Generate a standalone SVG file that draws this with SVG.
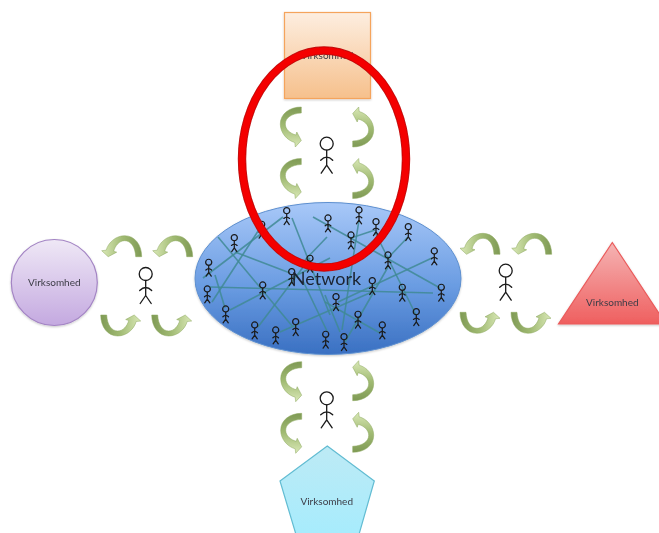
<svg xmlns="http://www.w3.org/2000/svg" xmlns:xlink="http://www.w3.org/1999/xlink" width="659" height="533" viewBox="0 0 659 533">
<style>
text{font-family:Lato,"Liberation Sans",sans-serif;font-size:10px;fill:#3c3c46;text-anchor:middle}
.fig{fill:none;stroke:#1a1a1a;stroke-linecap:round;stroke-linejoin:round}
.big{stroke-width:1.3}
.small{stroke-width:2.6}
.arr{fill:url(#gArrow);stroke:#8ba65c;stroke-width:.5}
#connectors line{stroke:#3f8a94;stroke-width:1.6;stroke-opacity:.85}
</style>
<defs>
<linearGradient id="gArrow" gradientUnits="userSpaceOnUse" x1="0" y1="0" x2="0" y2="38"><stop offset="0" stop-color="#7f9a55"/><stop offset=".5" stop-color="#a0ba72"/><stop offset="1" stop-color="#d4e4b0"/></linearGradient>
<linearGradient id="gOrange" x1="0" y1="0" x2="0" y2="1"><stop offset="0" stop-color="#fdeee0"/><stop offset="1" stop-color="#f6c08c"/></linearGradient>
<linearGradient id="gPurple" x1="0" y1="0" x2="0" y2="1"><stop offset="0" stop-color="#efe8f6"/><stop offset="1" stop-color="#c4a9e0"/></linearGradient>
<linearGradient id="gRed" x1="0" y1="0" x2="0" y2="1"><stop offset="0" stop-color="#f5b4b4"/><stop offset="1" stop-color="#ef5f5f"/></linearGradient>
<linearGradient id="gCyan" x1="0" y1="0" x2="0" y2="1"><stop offset="0" stop-color="#bdeaf5"/><stop offset="1" stop-color="#a6ecfd"/></linearGradient>
<linearGradient id="gBlue" x1="0" y1="0" x2="0" y2="1"><stop offset="0" stop-color="#a8c8f8"/><stop offset=".55" stop-color="#6a9ce2"/><stop offset="1" stop-color="#3a70c2"/></linearGradient>
<filter id="soft" x="-5%" y="-5%" width="110%" height="115%"><feDropShadow dx="0" dy="1" stdDeviation="1" flood-color="#000" flood-opacity=".22"/></filter>
<filter id="blur" filterUnits="userSpaceOnUse" x="0" y="0" width="659" height="533"><feGaussianBlur stdDeviation=".4"/></filter>
<path id="ca" class="arr" d="M0,0 L0,6 C-10,6.5 -16,11 -16,17 C-16,22.5 -11,26.5 -5.5,28 L-4.5,25 L0,33.5 L-6,40 L-6.5,35.5 C-14,33.5 -21,26 -21,17 C-21,7 -12,0 0,0Z"/>
<g id="p" class="fig"><circle cx="0" cy="0" r="6.5"/><path d="M0,6.5V21.5M-6,16.5Q-3,13.5 0,13.5Q3,13.5 6,16.5M0,21.5L-5.5,29.5M0,21.5L5.5,29.5"/></g>
</defs>
<rect width="659" height="533" fill="#fff"/>
<g filter="url(#blur)">
<g id="node-square"><rect x="284.5" y="12.5" width="86" height="86" fill="url(#gOrange)" stroke="#f5a45c" stroke-width="1.2" filter="url(#soft)"/><text x="327" y="59">Virksomhed</text></g>
<g id="node-circle"><circle cx="54.3" cy="282.5" r="43" fill="url(#gPurple)" stroke="#a384c4" stroke-width="1.2" filter="url(#soft)"/><text x="54.3" y="286">Virksomhed</text></g>
<g id="node-triangle"><polygon points="612.3,242.5 558.5,324 666,324" fill="url(#gRed)" stroke="#ea5a5a" stroke-width="1.2" filter="url(#soft)"/><text x="612.3" y="306">Virksomhed</text></g>
<g id="node-pentagon"><polygon points="327.3,446 374.3,481 358,538 297,538 280,481" fill="url(#gCyan)" stroke="#62bcd2" stroke-width="1.2"/><text x="326.7" y="504.5">Virksomhed</text></g>

<g id="node-network"><ellipse cx="328" cy="278.5" rx="133" ry="76" fill="url(#gBlue)" stroke="#5d8fcf" stroke-width="1" filter="url(#soft)"/></g>

<g id="connectors">
<line x1="203" y1="278" x2="283" y2="217"/>
<line x1="218" y1="237" x2="293" y2="327"/>
<line x1="235" y1="252" x2="290" y2="273"/>
<line x1="262" y1="225" x2="212" y2="302"/>
<line x1="210" y1="287" x2="433" y2="293"/>
<line x1="215" y1="275" x2="225" y2="308"/>
<line x1="230" y1="310" x2="330" y2="258"/>
<line x1="305" y1="260" x2="327" y2="237"/>
<line x1="258" y1="327" x2="310" y2="258"/>
<line x1="292" y1="218" x2="330" y2="315"/>
<line x1="303" y1="281" x2="327" y2="331"/>
<line x1="280" y1="332" x2="372" y2="292"/>
<line x1="338" y1="302" x2="432" y2="258"/>
<line x1="313" y1="217" x2="440" y2="288"/>
<line x1="375" y1="232" x2="416" y2="315"/>
<line x1="359" y1="220" x2="342" y2="330"/>
<line x1="388" y1="267" x2="345" y2="342"/>
<line x1="325" y1="302" x2="380" y2="333"/>
<line x1="351" y1="238" x2="375" y2="230"/>
<line x1="408" y1="237" x2="388" y2="258"/>
<line x1="325" y1="295" x2="340" y2="332"/>
</g>

<g id="network-people">
<use href="#p" class="small" transform="translate(286.7,210.7) scale(.47)"/>
<use href="#p" class="small" transform="translate(261.7,224.3) scale(.47)"/>
<use href="#p" class="small" transform="translate(234.3,237.7) scale(.47)"/>
<use href="#p" class="small" transform="translate(208.7,262.3) scale(.47)"/>
<use href="#p" class="small" transform="translate(207.3,289) scale(.47)"/>
<use href="#p" class="small" transform="translate(225.7,309) scale(.47)"/>
<use href="#p" class="small" transform="translate(254.7,325) scale(.47)"/>
<use href="#p" class="small" transform="translate(275.7,330) scale(.47)"/>
<use href="#p" class="small" transform="translate(295.7,321.7) scale(.47)"/>
<use href="#p" class="small" transform="translate(325.7,334.3) scale(.47)"/>
<use href="#p" class="small" transform="translate(262.7,285) scale(.47)"/>
<use href="#p" class="small" transform="translate(291.7,271.7) scale(.47)"/>
<use href="#p" class="small" transform="translate(310,258.3) scale(.47)"/>
<use href="#p" class="small" transform="translate(328,218) scale(.47)"/>
<use href="#p" class="small" transform="translate(359,210) scale(.47)"/>
<use href="#p" class="small" transform="translate(376,221.7) scale(.47)"/>
<use href="#p" class="small" transform="translate(351,235) scale(.47)"/>
<use href="#p" class="small" transform="translate(408.3,226.7) scale(.47)"/>
<use href="#p" class="small" transform="translate(434.3,251) scale(.47)"/>
<use href="#p" class="small" transform="translate(388,255) scale(.47)"/>
<use href="#p" class="small" transform="translate(372.3,280.7) scale(.47)"/>
<use href="#p" class="small" transform="translate(402.3,287.3) scale(.47)"/>
<use href="#p" class="small" transform="translate(441.3,287.3) scale(.47)"/>
<use href="#p" class="small" transform="translate(336,296.7) scale(.47)"/>
<use href="#p" class="small" transform="translate(416.3,311.7) scale(.47)"/>
<use href="#p" class="small" transform="translate(358,314.3) scale(.47)"/>
<use href="#p" class="small" transform="translate(382.3,325) scale(.47)"/>
<use href="#p" class="small" transform="translate(344,336.7) scale(.47)"/>
</g>
<text id="network-label" x="326.5" y="284.5" style="font-size:18px;fill:#1c2430">Network</text>

<g id="node-person-top">
<use href="#p" class="big" transform="translate(326.7,143.7)"/>
<use href="#ca" transform="translate(301.3,107)"/>
<use href="#ca" transform="translate(301.3,158.5)"/>
<use href="#ca" transform="translate(352.7,147) rotate(180)"/>
<use href="#ca" transform="translate(352.7,198.5) rotate(180)"/>
</g>
<g id="node-person-bottom">
<use href="#p" class="big" transform="translate(326.7,398.3)"/>
<use href="#ca" transform="translate(301.7,361.7)"/>
<use href="#ca" transform="translate(301.7,413.3)"/>
<use href="#ca" transform="translate(352.7,400.7) rotate(180)"/>
<use href="#ca" transform="translate(352.7,452.3) rotate(180)"/>
</g>
<g id="node-person-left">
<use href="#p" class="big" transform="translate(145.7,274)"/>
<use href="#ca" transform="translate(141.7,256.7) rotate(90)"/>
<use href="#ca" transform="translate(192.7,256.7) rotate(90)"/>
<use href="#ca" transform="translate(100.7,315) rotate(-90)"/>
<use href="#ca" transform="translate(151.7,315) rotate(-90)"/>
</g>
<g id="node-person-right">
<use href="#p" class="big" transform="translate(505.7,270.7)"/>
<use href="#ca" transform="translate(500,254.3) rotate(90)"/>
<use href="#ca" transform="translate(551.7,254.3) rotate(90)"/>
<use href="#ca" transform="translate(460,312.3) rotate(-90)"/>
<use href="#ca" transform="translate(511,312.3) rotate(-90)"/>
</g>

<g id="node-highlight" fill="none">
<ellipse cx="324" cy="159" rx="82" ry="108.5" stroke="#c00c0c" stroke-width="8.4"/>
<ellipse cx="324" cy="159" rx="82" ry="108.5" stroke="#f40000" stroke-width="6.6"/>
</g>
</g>
</svg>
